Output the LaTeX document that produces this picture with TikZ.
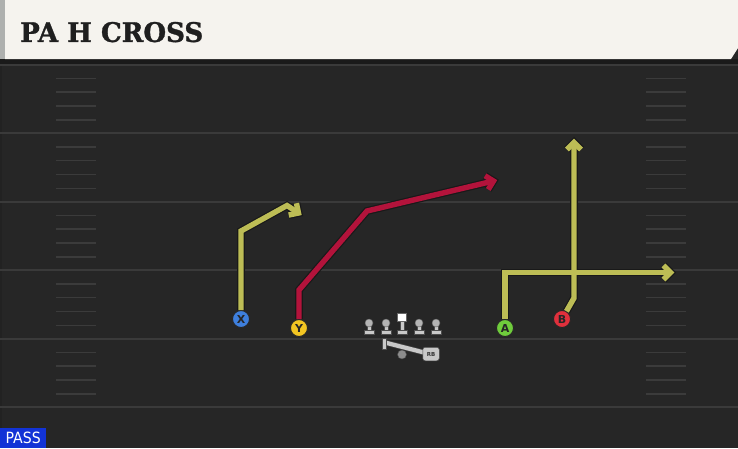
\documentclass[tikz,border=0pt]{standalone}
\usepackage{fontspec}
\setmainfont{DejaVu Sans}
\newfontfamily\titlefont{DejaVu Serif Bold}[FakeBold=1.2]
\newfontfamily\passfont{DejaVu Sans Condensed}
\usetikzlibrary{calc}
\definecolor{fieldbg}{HTML}{262626}
\definecolor{yardline}{HTML}{3A3A3A}
\definecolor{hashc}{HTML}{3B3B3B}
\definecolor{cream}{HTML}{F5F3EE}
\definecolor{stripgray}{HTML}{AEB0AE}
\definecolor{shadowc}{HTML}{1A1A1A}
\definecolor{routey}{HTML}{BDBD55}
\definecolor{router}{HTML}{B3133B}
\definecolor{pblue}{HTML}{3E7FDD}
\definecolor{pyellow}{HTML}{F2C522}
\definecolor{pgreen}{HTML}{6FCC3C}
\definecolor{pred}{HTML}{E0303C}
\definecolor{olgray}{HTML}{C8C8C8}
\definecolor{olhead}{HTML}{B4B4B4}
\definecolor{passblue}{HTML}{1233D6}
\tikzset{
  yard/.style={draw=yardline, line width=2pt},
  hashmark/.style={draw=hashc, line width=1.5pt},
  player/.style={circle, draw=black!85, line width=0.9pt, minimum size=17pt, inner sep=0pt,
    font=\fontsize{11}{11}\selectfont\bfseries, text=black!85},
  routeout/.style={draw=black!90, line width=7.8pt, line join=miter},
  routein/.style={line width=5.4pt, line join=miter},
  lineman/.pic={
    \fill[olgray, draw=black!70, line width=0.4pt] (-2,0) rectangle (2,7.5);
    \fill[olgray, draw=black!70, line width=0.4pt] (-5.2,7.5) rectangle (5.2,11.5);
    \fill[olhead, draw=black!60, line width=0.4pt] (0,0) circle (4pt);
  },
  centerman/.pic={
    \fill[olgray, draw=black!70, line width=0.4pt] (-2,7) rectangle (2,17);
    \fill[olgray, draw=black!70, line width=0.4pt] (-5.2,17) rectangle (5.2,21);
    \fill[white, draw=black!60, line width=0.4pt] (-4.6,0) rectangle (4.6,8.5);
  }
}
\begin{document}
\begin{tikzpicture}[x=1pt, y=-1pt]
\useasboundingbox (0,0) rectangle (738,448);
% field
\fill[fieldbg] (0,0) rectangle (738,448);
\fill[black!10!fieldbg] (0,59) rectangle (2,448);
% yard lines
\foreach \yy in {64.5,133,201.5,270,338.5,407}
  \draw[yard] (0,\yy) -- (738,\yy);
% hash marks
\foreach \yy in {64.5,133,201.5,270,338.5}{
  \foreach \dd in {13.9,27.4,41.6,55.3}{
    \draw[hashmark] (56,\yy+\dd) -- (96,\yy+\dd);
    \draw[hashmark] (646,\yy+\dd) -- (686,\yy+\dd);
  }
}
% header
\fill[shadowc] (0,59) rectangle (738,63.5);
\fill[cream] (5,0) -- (738,0) -- (738,48) -- (731,59) -- (5,59) -- cycle;
\fill[stripgray] (0,0) rectangle (5,59);
\node[anchor=south west, inner sep=0pt, text=black!88] (title) at (20,42.5)
  {\resizebox{183pt}{20pt}{\titlefont PA H CROSS}};
% players
\node[player, fill=pblue] (X) at (241,319) {X};
\node[player, fill=pyellow] (Y) at (299,328) {Y};
\node[player, fill=pgreen] (A) at (505,328) {A};
\node[player, fill=pred] (B) at (562,319) {B};
% route coordinates
\coordinate (x1) at (241,231);
\coordinate (x2) at (287,205.5);
\coordinate (x3) at (298.5,213);
\coordinate (y1) at (299,290);
\coordinate (y2) at (367,211);
\coordinate (y3) at (493.5,181);
\coordinate (a1) at (505,272.5);
\coordinate (a2) at (670.5,272.5);
\coordinate (b1) at (574,298);
\coordinate (b2) at (574,142.5);
% routes
\draw[routeout] (X) -- (x1) -- (x2) -- (x3);
\draw[routeout] ($(x3)!10pt!45:(x2)$) -- (x3) -- ($(x3)!10pt!-45:(x2)$);
\draw[routein, draw=routey] (X) -- (x1) -- (x2) -- (x3);
\draw[routein, draw=routey] ($(x3)!10pt!45:(x2)$) -- (x3) -- ($(x3)!10pt!-45:(x2)$);
\draw[routeout] (Y) -- (y1) -- (y2) -- (y3);
\draw[routeout] ($(y3)!10pt!45:(y2)$) -- (y3) -- ($(y3)!10pt!-45:(y2)$);
\draw[routein, draw=router] (Y) -- (y1) -- (y2) -- (y3);
\draw[routein, draw=router] ($(y3)!10pt!45:(y2)$) -- (y3) -- ($(y3)!10pt!-45:(y2)$);
\draw[routeout] (A) -- (a1) -- (a2);
\draw[routeout] ($(a2)!10pt!45:(a1)$) -- (a2) -- ($(a2)!10pt!-45:(a1)$);
\draw[routeout] (B) -- (b1) -- (b2);
\draw[routeout] ($(b2)!10pt!45:(b1)$) -- (b2) -- ($(b2)!10pt!-45:(b1)$);
\draw[routein, draw=routey] (A) -- (a1) -- (a2);
\draw[routein, draw=routey] ($(a2)!10pt!45:(a1)$) -- (a2) -- ($(a2)!10pt!-45:(a1)$);
\draw[routein, draw=routey] (B) -- (b1) -- (b2);
\draw[routein, draw=routey] ($(b2)!10pt!45:(b1)$) -- (b2) -- ($(b2)!10pt!-45:(b1)$);
% offensive line
\pic at (369,323) {lineman};
\pic at (386,323) {lineman};
\pic at (402,313) {centerman};
\pic at (419,323) {lineman};
\pic at (436,323) {lineman};
% running back
\fill[black!45, draw=black!70, line width=0.4pt] (402,354.5) circle (4.5pt);
\draw[black!75, line width=5.6pt] (385,342.5) -- (424,352.5);
\draw[olgray, line width=4.2pt] (385,342.5) -- (424,352.5);
\fill[olgray, draw=black!70, line width=0.4pt] (382,338.5) rectangle (386.5,349.5);
\node[draw=black!70, fill=olgray, rounded corners=2.5pt, line width=0.5pt, minimum width=16.5pt, minimum height=13.5pt, inner sep=0pt,
  font=\fontsize{5.5}{5.5}\selectfont\bfseries, text=black!80] (rb) at (431,354) {RB};
% pass label
\node[fill=passblue, anchor=south west, minimum width=46pt, minimum height=20pt, inner sep=0pt, text=white] (pass) at (0,448)
  {\resizebox{35pt}{11.5pt}{\passfont PASS}};
\end{tikzpicture}
\end{document}
